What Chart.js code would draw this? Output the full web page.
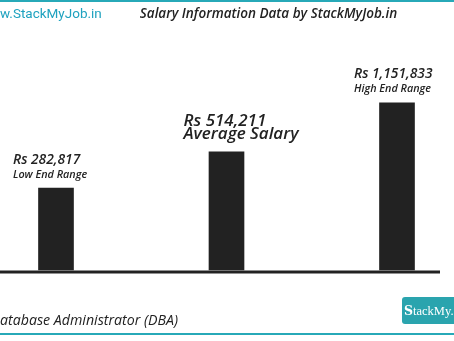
<!DOCTYPE html>
<html>
<head>
<meta charset="utf-8">
<script src="https://cdn.jsdelivr.net/npm/chart.js@4/dist/chart.umd.min.js"></script>
<style>
    html, body { margin: 0; padding: 0; background: #fff; }
    #wrap { width: 454px; height: 341px; position: relative; }
</style>
</head>
<body>
<div id="wrap"><canvas id="salaryChart" width="454" height="341"></canvas></div>
<script>
// 급여 데이터
const categories = ['Low End Range', 'Average Salary', 'High End Range'];
const salaries = [282817, 514211, 1151833];

const siteText = 'w.StackMyJob.in';
const titleText = 'Salary Information Data by StackMyJob.in';
const jobText = 'atabase Administrator (DBA)';

const TEAL = '#27a9b8';
const INK = '#222222';

function formatRs(v) {
    return 'Rs ' + v.toLocaleString('en-US');
}

/**
 * 배경, 상단/하단 라인, 제목, 로고
 */
const pageDecor = {
    id: 'pageDecor',
    beforeDraw(chart) {
        const ctx = chart.ctx;
        ctx.save();
        ctx.fillStyle = '#fff';
        ctx.fillRect(0, 0, chart.width, chart.height);
        ctx.restore();
    },
    afterDraw(chart) {
        const ctx = chart.ctx;
        ctx.save();

        // 상단/하단 라인
        ctx.fillStyle = TEAL;
        ctx.fillRect(0, 0, chart.width, 2);
        ctx.fillRect(0, 333, chart.width, 2);

        // 사이트 주소
        ctx.textBaseline = 'alphabetic';
        ctx.textAlign = 'left';
        ctx.fillStyle = '#1fa2bf';
        ctx.font = '13.5px Roboto';
        ctx.fillText(siteText, 0, 18);

        // 제목
        ctx.fillStyle = INK;
        ctx.font = 'italic 600 13.5px "Open Sans"';
        ctx.textAlign = 'center';
        ctx.fillText(titleText, 268.5, 18);

        // 직무명
        ctx.textAlign = 'left';
        ctx.font = 'italic 500 14.2px "Open Sans"';
        ctx.fillText(jobText, 0, 325);

        // 로고 박스
        ctx.fillStyle = '#2aa4ae';
        ctx.beginPath();
        ctx.roundRect(402, 297, 60, 27, 3);
        ctx.fill();
        ctx.fillStyle = '#fff';
        ctx.font = 'bold 12.5px "DejaVu Serif"';
        ctx.fillText('S', 404, 315);
        const sw = ctx.measureText('S').width;
        ctx.font = '12.5px "Liberation Serif"';
        ctx.fillText('tackMy.', 404 + sw, 315);

        ctx.restore();
    }
};

/**
 * 기준선 + 막대 위 금액/구간 라벨
 */
const salaryLabels = {
    id: 'salaryLabels',
    afterDatasetsDraw(chart) {
        const ctx = chart.ctx;
        const area = chart.chartArea;
        ctx.save();

        // 기준선 (차트 영역 밖까지 연장)
        ctx.fillStyle = INK;
        ctx.fillRect(0, area.bottom + 0.5, 440, 3);

        const meta = chart.getDatasetMeta(0);
        ctx.textAlign = 'left';
        ctx.textBaseline = 'alphabetic';
        meta.data.forEach((bar, i) => {
            const isAvg = i === 1;
            const x = bar.x - 43;
            ctx.fillStyle = INK;
            ctx.font = isAvg ? 'italic 600 17px "Open Sans"' : 'italic 600 13.8px "Open Sans"';
            ctx.fillText(formatRs(salaries[i]), x, bar.y - (isAvg ? 26 : 24.5));
            ctx.font = isAvg ? 'italic 600 17px "Open Sans"' : 'italic 600 10.8px "Open Sans"';
            ctx.fillText(categories[i], x, bar.y - (isAvg ? 13 : 10.5));
        });
        ctx.restore();
    }
};

const ctx = document.getElementById('salaryChart').getContext('2d');
const chart = new Chart(ctx, {
    type: 'bar',
    data: {
        labels: categories,
        datasets: [{
            data: salaries,
            backgroundColor: INK,
            borderWidth: 0,
            barThickness: 35,
            clip: false
        }]
    },
    options: {
        responsive: false,
        animation: false,
        events: [],
        layout: {
            padding: { top: 20, bottom: 71, left: 56, right: 57 }
        },
        plugins: {
            legend: { display: false },
            tooltip: { enabled: false },
            title: { display: false }
        },
        scales: {
            x: {
                type: 'category',
                display: false,
                offset: false
            },
            y: {
                type: 'logarithmic',
                display: false,
                bounds: 'data',
                min: 73500,
                max: 4500000
            }
        }
    },
    plugins: [pageDecor, salaryLabels]
});
</script>
</body>
</html>
